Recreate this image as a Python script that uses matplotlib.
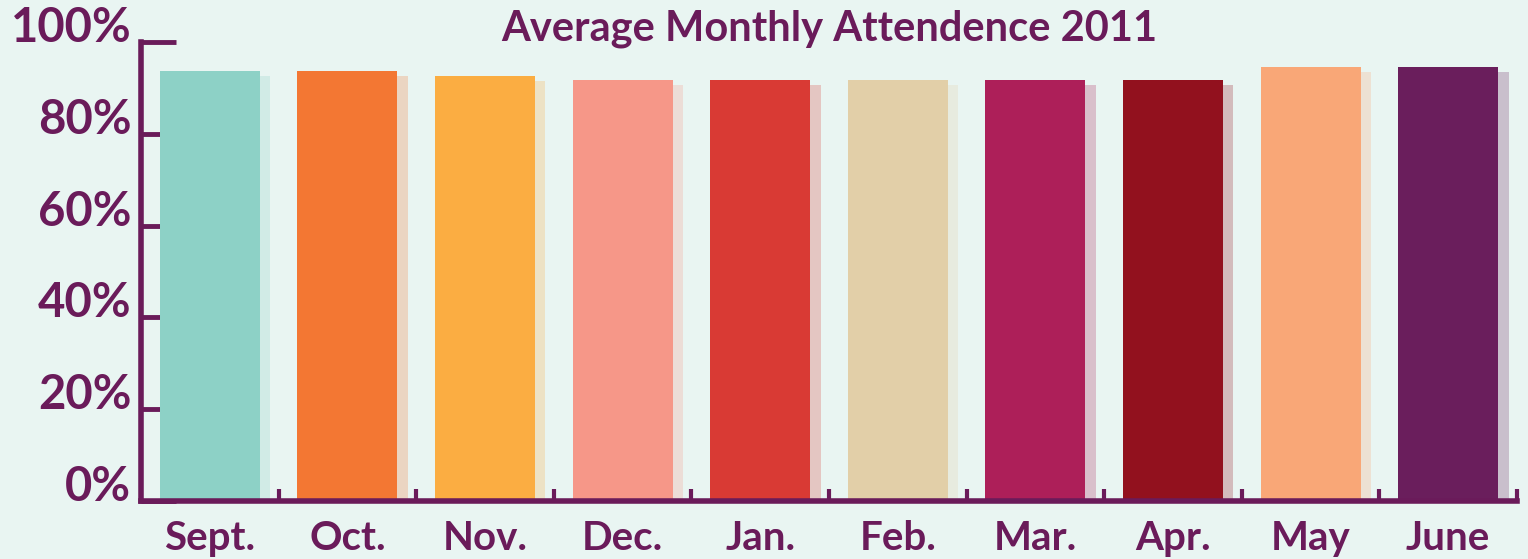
import matplotlib.pyplot as plt
import numpy as np

months = ["Sept.", "Oct.", "Nov.", "Dec.", "Jan.", "Feb.", "Mar.", "Apr.", "May", "June"]
attendance = [93.7, 93.7, 92.6, 91.7, 91.7, 91.7, 91.7, 91.7, 94.6, 94.6]
colors = ["#8dd1c6", "#f37733", "#fbad42", "#f69788", "#d93a34",
          "#e2cfa8", "#ad1f59", "#92111e", "#f9a777", "#6a1e5c"]
yticks = [0, 20, 40, 60, 80, 100]

purple = "#6a1b5a"
bg = "#e9f5f2"

plt.rcParams['font.family'] = ['Lato', 'DejaVu Sans']

fig = plt.figure(figsize=(15.28, 5.59), dpi=100, facecolor=bg)
ax = fig.add_axes([141/1528, 58/559, (1517-141)/1528, (501-42)/559])
ax.set_facecolor(bg)

x = np.arange(len(months))
w = 0.728
# shadows
ax.bar(x + 0.075, np.array(attendance) - 1.1, width=w, color=colors, alpha=0.25, zorder=2)
# bars
ax.bar(x, attendance, width=w, color=colors, zorder=3)

ax.set_xlim(-0.5, len(months) - 0.5)
ax.set_ylim(0, 100)

ax.set_yticks(yticks)
ax.set_yticklabels([f"{v}%" for v in yticks], fontsize=34, fontweight='bold', color=purple)
for lab in ax.get_yticklabels():
    lab.set_verticalalignment('baseline')
ax.set_xticks(x)
ax.set_xticklabels(months, fontsize=29, fontweight='bold', color=purple)
ax.tick_params(axis='x', length=0, pad=14)
ax.tick_params(axis='y', direction='in', length=25, width=3.5, color=purple, pad=7)

# category boundary ticks on x axis
ax.set_xticks(x + 0.5, minor=True)
ax.tick_params(axis='x', which='minor', direction='in', length=9, width=3, color=purple)

for s in ['top', 'right']:
    ax.spines[s].set_visible(False)
for s in ['left', 'bottom']:
    ax.spines[s].set_color(purple)
    ax.spines[s].set_linewidth(4)
    ax.spines[s].set_zorder(4)

fig.text(829/1528, (559-40)/559, "Average Monthly Attendence 2011", fontsize=30,
         fontweight='bold', color=purple, ha='center', va='baseline')

fig.savefig("out.png", dpi=100, facecolor=bg)
